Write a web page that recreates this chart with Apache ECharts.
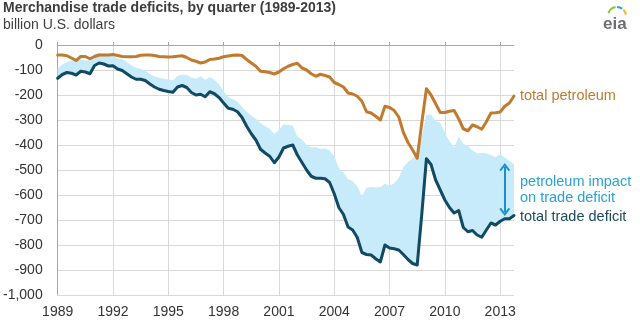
<!DOCTYPE html>
<html>
<head>
<meta charset="utf-8">
<script src="https://cdn.jsdelivr.net/npm/echarts@6/dist/echarts.min.js"></script>
<style>
html,body{margin:0;padding:0;background:#fff;}
#c{width:640px;height:324px;}
</style>
</head>
<body>
<div id="c"></div>
<script>
// Quarters 1989Q1 .. 2013Q4
var years = [];
for (var y = 1989; y <= 2013; y++) years.push(y);
var quarters = [];
years.forEach(function (yr) { for (var q = 1; q <= 4; q++) quarters.push(yr + 'Q' + q); });

// Total petroleum balance (billion U.S. dollars, quarterly, annualized)
var petroleum = [
  -40, -40, -43, -52, -62, -46, -46, -55, -46, -40, -40, -40,
  -38, -42, -46, -47, -47, -46, -41, -40, -40, -42, -46, -47,
  -48, -47, -45, -43, -50, -60, -65, -72, -68, -58, -56, -53,
  -47, -44, -41, -40, -42, -58, -72, -85, -105, -107, -110, -116,
  -108, -95, -85, -78, -73, -92, -100, -115, -125, -117, -122, -128,
  -150, -158, -168, -192, -196, -205, -225, -267, -272, -285, -300, -245,
  -250, -262, -288, -350, -390, -420, -453, -310, -175, -200, -235, -270,
  -270, -265, -262, -295, -335, -343, -320, -327, -337, -307, -272, -271,
  -268, -245, -232, -204
];

// Total trade balance (billion U.S. dollars)
var total = [
  -133, -118, -110, -113, -120, -105, -108, -115, -82, -72, -76, -84,
  -83, -96, -102, -115, -128, -137, -137, -142, -156, -168, -177, -182,
  -186, -189, -168, -162, -170, -190, -200, -197, -207, -187, -195, -210,
  -232, -253, -257, -267, -290, -325, -355, -380, -417, -432, -445, -471,
  -448, -412, -405, -400, -440, -470, -500, -525, -533, -533, -535, -550,
  -595, -650, -678, -728, -740, -770, -830, -838, -840, -855, -868, -800,
  -812, -815, -820, -838, -858, -874, -880, -675, -455, -478, -540, -580,
  -620, -650, -672, -662, -730, -747, -742, -760, -769, -740, -712, -720,
  -705, -695, -695, -682
];

var yTicks = [-1000, -900, -800, -700, -600, -500, -400, -300, -200, -100, 0];

// Band: from the non-petroleum balance (total minus petroleum) down to the total
var nonPetroleum = total.map(function (v, i) { return v - petroleum[i]; });

var chart = echarts.init(document.getElementById('c'), null, {renderer: 'canvas'});

var gridColors = yTicks.map(function (t) { return t === 0 ? '#a6a6a6' : '#d9d9d9'; });

var option = {
  animation: false,
  grid: {left: 56, right: 126, top: 45, bottom: 29, containLabel: false},
  xAxis: [{
    type: 'category',
    data: quarters,
    boundaryGap: false,
    position: 'bottom',
    axisLine: {show: false, onZero: false},
    axisTick: {show: false},
    axisLabel: {
      interval: 11,
      margin: 10,
      color: '#333',
      fontFamily: 'Liberation Sans, Arial, sans-serif',
      fontSize: 14,
      formatter: function (v) { return v.slice(0, 4); }
    },
    splitLine: {show: true, interval: 11, lineStyle: {color: '#d9d9d9', width: 1}}
  }, {
    type: 'category',
    data: quarters,
    boundaryGap: false,
    position: 'top',
    axisLine: {show: true, onZero: false, lineStyle: {color: '#a6a6a6', width: 1}},
    axisTick: {show: true, interval: 11, length: 3, lineStyle: {color: '#a6a6a6'}},
    axisLabel: {show: false},
    splitLine: {show: false}
  }],
  yAxis: {
    type: 'value',
    min: -1000,
    max: 0,
    interval: 100,
    axisLine: {show: true, lineStyle: {color: '#a6a6a6', width: 1}},
    axisTick: {show: false},
    axisLabel: {
      margin: 15,
      color: '#333',
      fontFamily: 'Liberation Sans, Arial, sans-serif',
      fontSize: 14,
      formatter: function (v) { return v.toLocaleString('en-US'); }
    },
    splitLine: {show: true, lineStyle: {color: gridColors, width: 1}}
  },
  series: [
    {
      name: 'nonPetroleum',
      type: 'line',
      stack: 'band',
      data: nonPetroleum,
      symbol: 'none',
      lineStyle: {opacity: 0},
      silent: true
    },
    {
      name: 'impact',
      type: 'line',
      stack: 'band',
      data: petroleum,
      symbol: 'none',
      lineStyle: {opacity: 0},
      areaStyle: {color: '#c8ebfc', opacity: 1},
      silent: true
    },
    {
      name: 'total petroleum',
      type: 'line',
      data: petroleum,
      symbol: 'none',
      lineStyle: {color: '#c17a2e', width: 3, join: 'round', cap: 'round'},
      silent: true
    },
    {
      name: 'total trade deficit',
      type: 'line',
      data: total,
      symbol: 'none',
      lineStyle: {color: '#104a63', width: 3, join: 'round', cap: 'round'},
      silent: true,
      markLine: {
        silent: true,
        symbol: ['path://M0,9 L5,0 L10,9 L8.3,10 L5,4 L1.7,10 Z', 'path://M0,9 L5,0 L10,9 L8.3,10 L5,4 L1.7,10 Z'],
        symbolSize: [11, 8],
        label: {show: false},
        lineStyle: {color: '#1b8fcf', width: 2, type: 'solid'},
        itemStyle: {color: '#1b8fcf'},
        data: [[{coord: [quarters[97], -488]}, {coord: [quarters[97], -668]}]]
      }
    }
  ],
  graphic: [
    {type: 'text', left: 3, top: 1, style: {text: 'Merchandise trade deficits, by quarter (1989-2013)', fill: '#3d3d3d', font: 'bold 14px "Liberation Sans", Arial, sans-serif'}},
    {type: 'text', left: 3, top: 18, style: {text: 'billion U.S. dollars', fill: '#3d3d3d', font: '14px "Liberation Sans", Arial, sans-serif'}},
    {type: 'text', left: 520, top: 88, style: {text: 'total petroleum', fill: '#c17a2e', font: '14.5px "Liberation Sans", Arial, sans-serif'}},
    {type: 'text', left: 520, top: 174, style: {text: 'petroleum impact', fill: '#27a2dc', font: '14.5px "Liberation Sans", Arial, sans-serif'}},
    {type: 'text', left: 520, top: 190, style: {text: 'on trade deficit', fill: '#27a2dc', font: '14.5px "Liberation Sans", Arial, sans-serif'}},
    {type: 'text', left: 520, top: 209, style: {text: 'total trade deficit', fill: '#1d4a5e', font: '14.5px "Liberation Sans", Arial, sans-serif'}},
    {type: 'text', left: 603, top: 16, style: {text: 'eia', fill: '#6d6e71', font: 'bold 17px "Liberation Sans", Arial, sans-serif'}},
    {type: 'arc', shape: {cx: 617, cy: 16, r: 9, startAngle: Math.PI * 1.1, endAngle: Math.PI * 1.45}, style: {stroke: '#8dc63f', lineWidth: 2, fill: null}},
    {type: 'arc', shape: {cx: 617, cy: 16, r: 9, startAngle: Math.PI * 1.5, endAngle: Math.PI * 1.7}, style: {stroke: '#29a3dd', lineWidth: 2, fill: null}},
    {type: 'arc', shape: {cx: 617, cy: 16, r: 9, startAngle: Math.PI * 1.75, endAngle: Math.PI * 1.95}, style: {stroke: '#f7b32b', lineWidth: 2, fill: null}}
  ]
};

chart.setOption(option);
</script>
</body>
</html>
